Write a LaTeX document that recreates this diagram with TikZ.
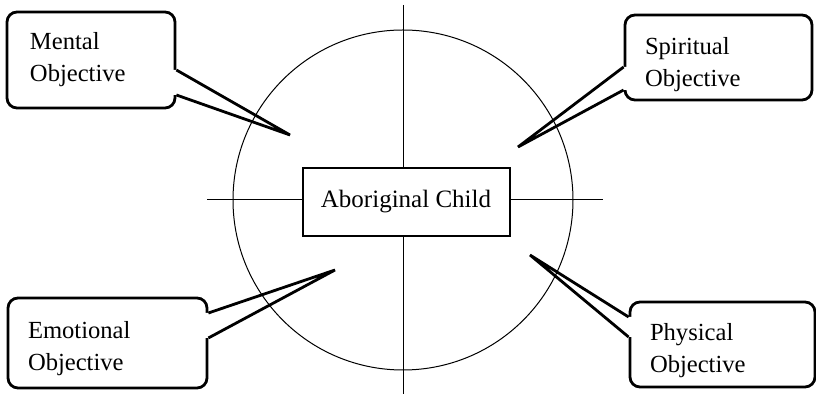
\documentclass[tikz,border=0pt]{standalone}
\usepackage{fontspec}
\setmainfont{Liberation Serif}
\usetikzlibrary{calc}

\newcommand{\topgap}[2]{\raisebox{0pt}[\dimexpr\height+#1\relax]{#2}}

\tikzset{
  callbox/.style={rectangle, draw, line width=1.4pt, rounded corners=5pt,
    fill=white, align=left, inner xsep=10pt, inner ysep=0pt,
    font=\fontsize{12.3}{16}\selectfont},
  callline/.style={line width=1.4pt},
  thin line/.style={line width=0.5pt},
}

\begin{document}
\begin{tikzpicture}[x=0.5pt,y=-0.5pt]
  \useasboundingbox (0,0) rectangle (816,394);

  % callouts
  \node[callbox, minimum width=84pt, minimum height=48pt, text width=61pt, inner xsep=11.5pt]
    (mental) at (91,60) {Mental\\Objective};
  \node[callbox, minimum width=93.5pt, minimum height=42.5pt, text width=73.5pt]
    (spiritual) at (718.5,57.5) {\topgap{7pt}{Spiritual}\\Objective};
  \node[callbox, minimum width=99.5pt, minimum height=45pt, text width=79.5pt]
    (emotional) at (107.5,343) {\topgap{6pt}{Emotional}\\Objective};
  \node[callbox, minimum width=92.5pt, minimum height=42.5pt, text width=72.5pt]
    (physical) at (722.5,344.5) {\topgap{6pt}{Physical}\\Objective};

  \coordinate (tipM) at (290,135);
  \coordinate (tipS) at (518,147);
  \coordinate (tipE) at (335,270);
  \coordinate (tipP) at (530,255);

  % pointers
  \fill[white] ($(mental.east)+(-4,10)$) -- ($(mental.east)+(0,10)$) -- (tipM)
    -- ($(mental.east)+(0,35)$) -- ($(mental.east)+(-4,35)$) -- cycle;
  \draw[callline] ($(mental.east)+(0,10)$) -- (tipM) -- ($(mental.east)+(0,35)$);

  \fill[white] ($(spiritual.west)+(4,9.5)$) -- ($(spiritual.west)+(0,9.5)$) -- (tipS)
    -- ($(spiritual.west)+(0,32.5)$) -- ($(spiritual.west)+(4,32.5)$) -- cycle;
  \draw[callline] ($(spiritual.west)+(0,9.5)$) -- (tipS) -- ($(spiritual.west)+(0,32.5)$);

  \fill[white] ($(emotional.east)+(-4,-30)$) -- ($(emotional.east)+(0,-30)$) -- (tipE)
    -- ($(emotional.east)+(0,-5)$) -- ($(emotional.east)+(-4,-5)$) -- cycle;
  \draw[callline] ($(emotional.east)+(0,-30)$) -- (tipE) -- ($(emotional.east)+(0,-5)$);

  \fill[white] ($(physical.west)+(4,-27.5)$) -- ($(physical.west)+(0,-27.5)$) -- (tipP)
    -- ($(physical.west)+(0,-7.5)$) -- ($(physical.west)+(4,-7.5)$) -- cycle;
  \draw[callline] ($(physical.west)+(0,-27.5)$) -- (tipP) -- ($(physical.west)+(0,-7.5)$);

  % wheel and cross
  \node[circle, draw, thin line, minimum size=170pt, inner sep=0pt] (wheel) at (403,200) {};
  \draw[thin line] ($(wheel.center)+(0,-195)$) -- ($(wheel.center)+(0,194)$);
  \draw[thin line] ($(wheel.center)+(-196,0)$) -- ($(wheel.center)+(200,0)$);

  \node[rectangle, draw, line width=1pt, fill=white, minimum width=103.5pt,
        minimum height=34pt, font=\fontsize{12.5}{15}\selectfont]
    (child) at (406,202) {Aboriginal Child};
\end{tikzpicture}
\end{document}
